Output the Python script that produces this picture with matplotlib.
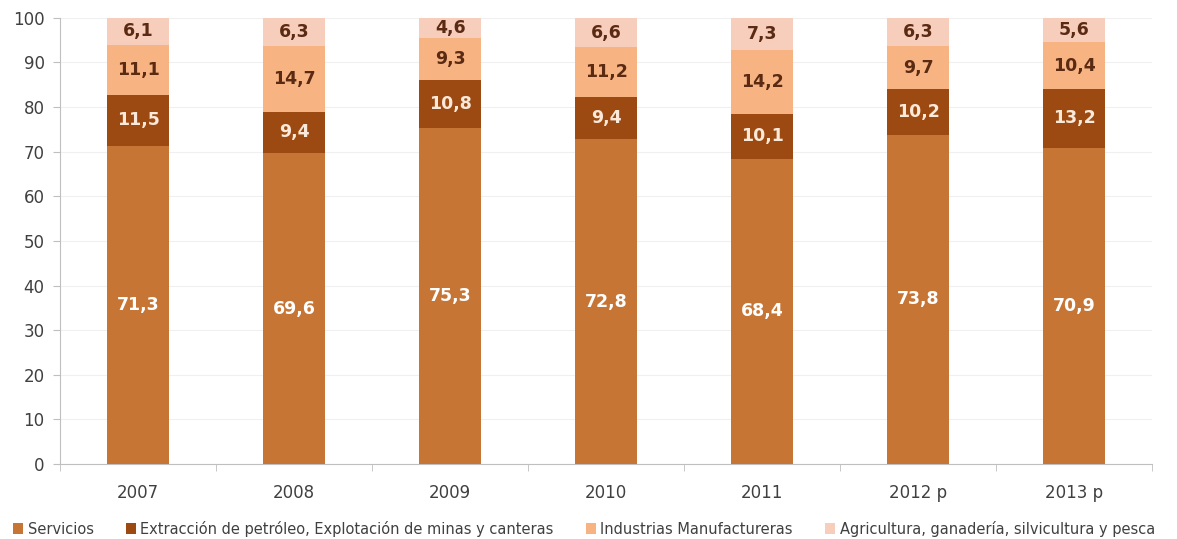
import matplotlib
matplotlib.use("Agg")
import matplotlib.pyplot as plt
import numpy as np

years = ["2007", "2008", "2009", "2010", "2011", "2012 p", "2013 p"]
servicios = [71.3, 69.6, 75.3, 72.8, 68.4, 73.8, 70.9]
extraccion = [11.5, 9.4, 10.8, 9.4, 10.1, 10.2, 13.2]
industrias = [11.1, 14.7, 9.3, 11.2, 14.2, 9.7, 10.4]
agricultura = [6.1, 6.3, 4.6, 6.6, 7.3, 6.3, 5.6]

series = [
    ("Servicios", servicios, "#C67535", "white"),
    ("Extracción de petróleo, Explotación de minas y canteras", extraccion, "#9C4A12", "#FBE9DA"),
    ("Industrias Manufactureras", industrias, "#F8B383", "#5A2A12"),
    ("Agricultura, ganadería, silvicultura y pesca", agricultura, "#F7CDBC", "#5A2A12"),
]

plt.rcParams['font.family'] = ['DejaVu Sans']

fig = plt.figure(figsize=(11.77, 5.39), dpi=100)
ax = fig.add_axes([0.051, 0.139, 0.928, 0.828])

x = np.arange(len(years))
bottom = np.zeros(len(years))
handles = []
for name, vals, color, tcolor in series:
    vals = np.array(vals)
    b = ax.bar(x, vals, 0.4, bottom=bottom, color=color, label=name, zorder=3)
    handles.append(b)
    for xi, v, bt in zip(x, vals, bottom):
        ax.text(xi, bt + v / 2, f"{v:.1f}".replace(".", ","), ha="center", va="center",
                color=tcolor, fontsize=12.5, fontweight="bold", zorder=4)
    bottom += vals

ax.set_xlim(-0.5, len(years) - 0.5)
ax.set_ylim(0, 100)
ax.set_yticks(range(0, 101, 10))
ax.set_xticks(x)
ax.set_xticklabels(years)
ax.set_xticks(np.arange(-0.5, len(years), 1), minor=True)
ax.tick_params(axis="x", which="major", length=0, labelsize=12, colors="#404040", pad=14)
ax.tick_params(axis="x", which="minor", length=5, color="#BFBFBF")
ax.tick_params(axis="y", length=5, color="#BFBFBF", labelsize=12, labelcolor="#404040", pad=6)
ax.grid(axis="y", color="#F0F0F0", linewidth=0.8, zorder=0)
for s in ["top", "right"]:
    ax.spines[s].set_visible(False)
ax.spines["left"].set_color("#BFBFBF")
ax.spines["bottom"].set_color("#BFBFBF")

fig.legend(handles=handles, loc="lower left", bbox_to_anchor=(0.0, -0.02), ncol=4,
           frameon=False, fontsize=10.5, handlelength=0.7, handleheight=0.7,
           handletextpad=0.3, columnspacing=2.2, labelcolor="#404040")

fig.savefig("out.png", dpi=100)
